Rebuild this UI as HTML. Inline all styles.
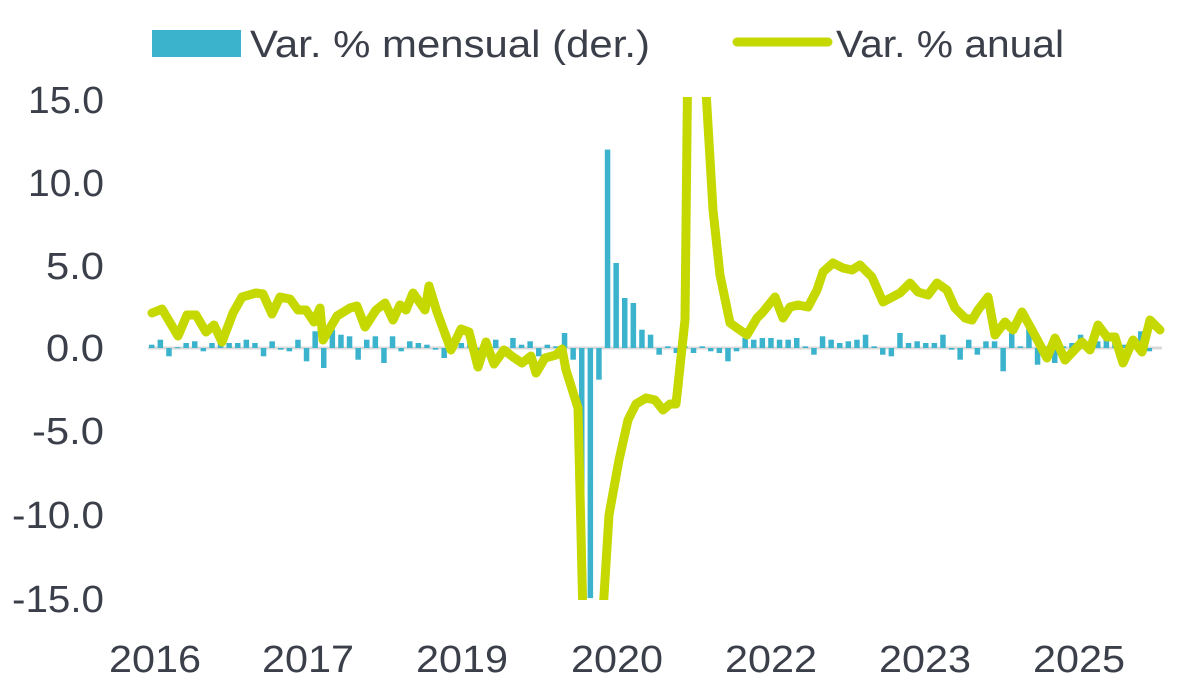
<!DOCTYPE html>
<html><head><meta charset="utf-8"><style>
html,body{margin:0;padding:0;background:#fff;width:1195px;height:689px;overflow:hidden}
svg text{font-family:"Liberation Sans",sans-serif;fill:#3b3f4a}
</style></head><body>
<svg id="s" width="1195" height="689" viewBox="0 0 1195 689" xmlns="http://www.w3.org/2000/svg">
<defs><clipPath id="c"><rect x="140" y="97" width="1030" height="503"/></clipPath></defs>
<rect x="152" y="30" width="89" height="27" fill="#3bb3cc"/>
<text x="250" y="57" font-size="38" textLength="400" lengthAdjust="spacingAndGlyphs">Var. % mensual (der.)</text>
<line x1="737" y1="42" x2="828" y2="42" stroke="#c5d800" stroke-width="9" stroke-linecap="round"/>
<text x="836" y="57" font-size="38" textLength="228" lengthAdjust="spacingAndGlyphs">Var. % anual</text>
<g font-size="38" text-anchor="end">
<text x="104" y="113" textLength="76" lengthAdjust="spacingAndGlyphs">15.0</text>
<text x="104" y="196" textLength="76" lengthAdjust="spacingAndGlyphs">10.0</text>
<text x="104" y="279" textLength="58" lengthAdjust="spacingAndGlyphs">5.0</text>
<text x="104" y="361" textLength="58" lengthAdjust="spacingAndGlyphs">0.0</text>
<text x="104" y="444" textLength="72" lengthAdjust="spacingAndGlyphs">-5.0</text>
<text x="104" y="528" textLength="92" lengthAdjust="spacingAndGlyphs">-10.0</text>
<text x="104" y="612" textLength="92" lengthAdjust="spacingAndGlyphs">-15.0</text>
</g>
<g font-size="38" text-anchor="middle">
<text x="155" y="672" textLength="92" lengthAdjust="spacingAndGlyphs">2016</text>
<text x="308" y="672" textLength="92" lengthAdjust="spacingAndGlyphs">2017</text>
<text x="462" y="672" textLength="92" lengthAdjust="spacingAndGlyphs">2019</text>
<text x="617" y="672" textLength="92" lengthAdjust="spacingAndGlyphs">2020</text>
<text x="771" y="672" textLength="92" lengthAdjust="spacingAndGlyphs">2022</text>
<text x="925" y="672" textLength="92" lengthAdjust="spacingAndGlyphs">2023</text>
<text x="1079" y="672" textLength="92" lengthAdjust="spacingAndGlyphs">2025</text>
</g>
<line x1="148" y1="348" x2="1162" y2="348" stroke="#d9d9d9" stroke-width="3"/>
<g id="bars" fill="#3bb3cc" clip-path="url(#c)"></g>
<polyline clip-path="url(#c)" fill="none" stroke="#c5d800" stroke-width="9" stroke-linejoin="round" stroke-linecap="round" points="152,313 162,309 178,336 187,315 196,315 206,332 214,325 222,342 233,313 242,297 256,293 263,294 272,314 280,297 290,299 298,310 306,310 314,322 320,308 323,340 337,316 350,308 357,306 365,327 376,310 385,303 393,320 400,305 406,310 413,293 418,300 425,310 429,286 437,312 451,350 461,329 469,332 478,367 486,342 494,364 504,350 513,357 522,363 531,356 536,373 545,358 556,355 562,349 566,370 578,408 584,660 600,660 609,515 619,460 628,420 636,404 646,398 655,400 663,410 670,404 676,404 685,320 688,40 703,40 713,210 720,275 730,323 747,335 757,318 763,312 775,297 783,318 790,307 798,305 808,307 817,290 823,272 833,263 843,268 852,270 860,265 872,277 883,302 900,293 910,283 918,292 928,295 937,283 947,290 955,308 965,318 972,320 978,310 988,297 995,335 1005,322 1013,330 1022,312 1032,330 1047,358 1055,338 1065,360 1082,342 1090,350 1098,325 1107,337 1115,337 1123,363 1133,340 1142,352 1150,320 1160,330"/>
</svg>
<script>
var v=[0.2,0.5,-0.5,0.05,0.3,0.4,-0.2,0.3,0.3,0.3,0.3,0.5,0.3,-0.5,0.4,-0.1,-0.2,0.5,-0.8,1.0,-1.2,1.1,0.8,0.7,-0.7,0.5,0.7,-0.9,0.7,-0.2,0.4,0.3,0.2,-0.1,-0.6,0.2,0.3,0.4,-0.7,-0.4,0.5,-0.3,0.6,0.2,0.4,-0.5,0.2,0.1,
0.9,-0.7,-15,-15,-1.9,11.9,5.1,3,2.7,1.1,0.8,-0.4,0.1,-0.3,0.1,-0.3,0.1,-0.2,-0.3,-0.8,-0.2,0.6,0.5,0.6,0.6,0.5,0.5,0.6,0.1,-0.4,0.7,0.5,0.3,0.4,0.5,0.8,0.1,-0.4,-0.5,0.9,0.3,0.4,0.3,0.3,0.8,-0.1,-0.7,0.5,-0.4,0.4,0.4,-1.4,0.9,0.1,1.2,-1,0.1,-0.9,0.1,0.3,0.8,0.3,0.4,0.6,0.4,0.2,0.3,1.0,-0.2];
var g=document.getElementById('bars'),h='';
for(var i=0;i<v.length;i++){var x=149+i*8.6,y0=348,val=Math.max(-16,Math.min(16,v[i]));var y=val>=0?y0-val*16.67:y0,hh=Math.max(1,Math.abs(val)*16.67);
h+='<rect x="'+x.toFixed(1)+'" y="'+y.toFixed(1)+'" width="5.5" height="'+hh.toFixed(1)+'"/>';}
g.innerHTML=h;
</script>
</body></html>
